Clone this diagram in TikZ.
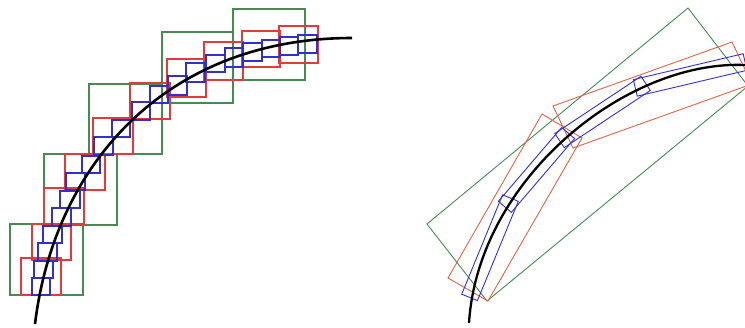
\documentclass[tikz,border=0pt]{standalone}
\usetikzlibrary{calc}
\definecolor{gbox}{RGB}{72,138,84}
\definecolor{rbox}{RGB}{228,58,58}
\definecolor{rbox2}{RGB}{225,100,75}
\definecolor{bbox}{RGB}{48,48,205}
\newcommand\obbox[6]{%
  \path ($(#2)!-#4!(#3)$) coordinate (oa) ($(#3)!-#4!(#2)$) coordinate (ob);
  \draw[#1] ($(oa)!#5!90:(ob)$) -- ($(ob)!#5!-90:(oa)$) -- ($(ob)!#6!90:(oa)$) -- ($(oa)!#6!-90:(ob)$) -- cycle;}
\begin{document}
\begin{tikzpicture}[x=1pt,y=-1pt,
  gsq/.style={draw=gbox,line width=1.1pt},
  rsq/.style={draw=rbox,line width=1.1pt},
  bsq/.style={draw=bbox,line width=1.1pt},
  gob/.style={draw=gbox,line width=0.9pt,line join=miter},
  rob/.style={draw=rbox2,line width=0.9pt},
  bob/.style={draw=bbox,line width=0.9pt},
  crv/.style={draw=black,line width=2.6pt}]
\useasboundingbox (0,0) rectangle (745,327);
\clip (0,0) rectangle (745,327);
% ---------- left: axis aligned boxes ----------
\foreach \a/\b/\c/\d in {10/224/83/295, 44/154/117/225, 89/84/162/154, 162/32/233/103, 233/9/305/80}
  \draw[gsq] (\a,\b) rectangle (\c,\d);
\foreach \a/\b/\c/\d in {21/258/61/295, 32/224/71/260, 44/188/84/225, 65/154/105/190, 93/118/133/154,
  130/83/170/119, 167/59/206/97, 204/42/243/80, 242/31/280/67, 279/26/318/63}
  \draw[rsq] (\a,\b) rectangle (\c,\d);
\foreach \a/\b/\c/\d in {32/278/50/295, 34/261/53/278, 38/243/57/261, 43/226/62/243, 52/208/71/226,
  60/191/80/208, 66/173/85/190, 82/156/100/173, 94/137/113/155, 112/120/130/137,
  132/102/150/120, 150/86/168/103, 168/76/187/95, 186/63/205/82, 206/55/225/72,
  225/48/243/67, 243/43/262/61, 262/40/280/57, 280/37/298/55, 298/35/317/53}
  \draw[bsq] (\a,\b) rectangle (\c,\d);
\draw[crv] (35,324) .. controls (55,160) and (170,38) .. (352,38);
% ---------- right: oriented boxes ----------
\draw[gob] (427,224) -- (688,8) -- (748,86) -- (487,301) -- cycle;
\draw[rob] (542,114) -- (448,278) -- (488,301) -- (582,138) -- cycle;
\draw[rob] (553,106) -- (732,42) -- (752,84) -- (573,148) -- cycle;
\path (469,323) .. controls (478,180) and (625,60) .. (745,65)
  coordinate[pos=0.07] (j0) coordinate[pos=0.3] (j1) coordinate[pos=0.5] (j2)
  coordinate[pos=0.72] (j3) coordinate[pos=0.985] (j4);
\obbox{bob}{j0}{j1}{5pt}{10pt}{7pt}
\obbox{bob}{j1}{j2}{6pt}{10pt}{7pt}
\obbox{bob}{j2}{j3}{6pt}{10pt}{7pt}
\obbox{bob}{j3}{j4}{6pt}{10pt}{7pt}
\draw[crv,line width=2.3pt] (469,323) .. controls (478,180) and (625,60) .. (745,65);
\end{tikzpicture}
\end{document}
